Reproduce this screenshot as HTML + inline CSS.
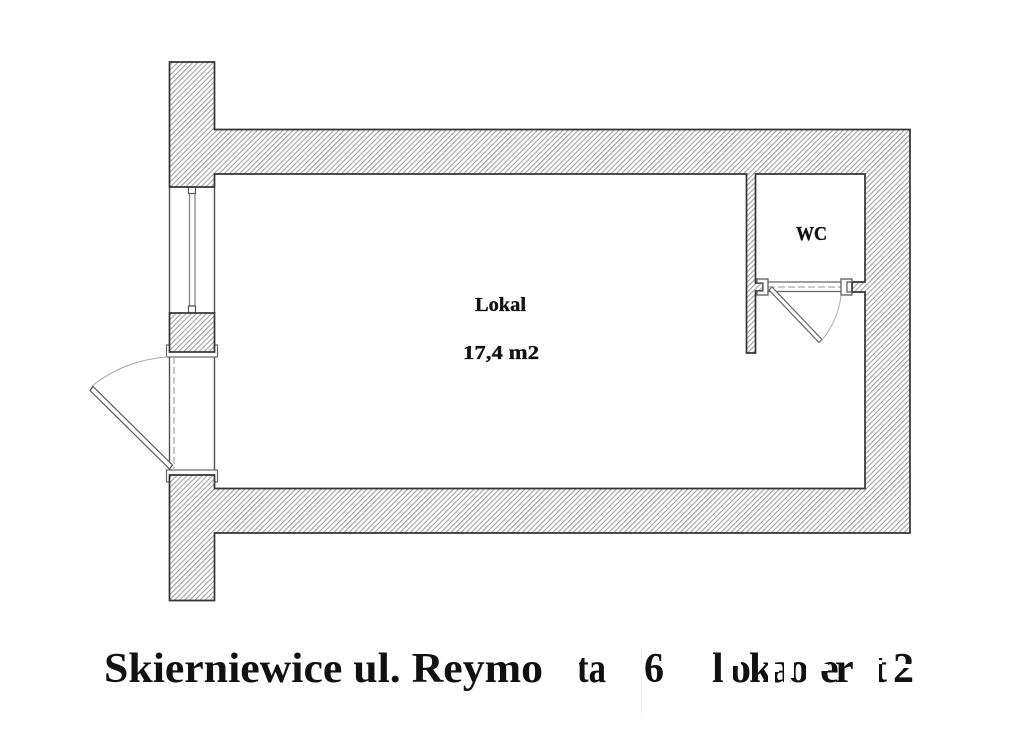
<!DOCTYPE html>
<html><head><meta charset="utf-8"><style>
html,body{margin:0;padding:0;background:#fff}
svg{display:block}
text{font-family:"Liberation Serif",serif;font-weight:bold;fill:#111}
.s{stroke:#111;stroke-width:.35}
</style></head><body>
<svg width="1024" height="734" viewBox="0 0 1024 734" xmlns="http://www.w3.org/2000/svg">
<defs>
<pattern id="h" width="3.6" height="3.6" patternUnits="userSpaceOnUse" patternTransform="rotate(45)">
<rect width="3.6" height="3.6" fill="#fff"/><rect x="0" y="0" width="1.1" height="3.6" fill="#a2a2a2"/>
</pattern>
</defs>
<rect width="1024" height="734" fill="#fff"/>

<!-- door frames -->
<g fill="#fff" stroke="#666" stroke-width="1.2">
<rect x="166.5" y="345" width="51" height="12"/>
<rect x="166.5" y="470" width="51" height="12"/>
</g>
<!-- window / door jamb lines -->
<g stroke="#555" stroke-width="1.4" fill="none">
<path d="M169.5 187V313M214.5 187V313M169.5 357V470M214.5 357V470"/>
</g>
<path d="M174 357V470" stroke="#aaa" stroke-width="1.3" stroke-dasharray="7 3" fill="none"/>
<!-- window glass -->
<rect x="189.5" y="193" width="5.5" height="113" fill="#fff" stroke="#888" stroke-width="1.3"/>
<rect x="188.5" y="187" width="7" height="6.5" fill="#fff" stroke="#555" stroke-width="1.2"/>
<rect x="188.5" y="306" width="7" height="7" fill="#fff" stroke="#555" stroke-width="1.2"/>

<!-- main walls -->
<path fill="url(#h)" stroke="#333" stroke-width="1.7" stroke-linejoin="miter" d="M169.5 62H214.5V129.5H910V533H214.5V600.5H169.5V475H214.5V488.5H865V292H852V282H865V174H755.5V283H763V291H755.5V353H746.5V174H214.5V187H169.5Z"/>
<rect x="169.5" y="313" width="45" height="39" fill="url(#h)" stroke="#333" stroke-width="1.7"/>

<!-- entrance door -->
<path d="M92 386Q125 360 167 357" fill="none" stroke="#aaa" stroke-width="1"/>
<path d="M90 390.5L93 386.5L172.5 465L169.5 469Z" fill="#fff" stroke="#555" stroke-width="1.2"/>

<!-- WC door -->
<path d="M768 282H841M768 291.5H841" stroke="#666" stroke-width="1.2" fill="none"/>
<path d="M768 287H841" stroke="#aaa" stroke-width="1.2" stroke-dasharray="7 3" fill="none"/>
<path d="M757 279H768V295H757V291H763V283H757Z" fill="#fff" stroke="#555" stroke-width="1.2"/>
<path d="M841 279H852V282H847V292H852V295H841Z" fill="#fff" stroke="#555" stroke-width="1.2"/>
<path d="M769 290L772 287L822 339.5L819 342.5Z" fill="#fff" stroke="#666" stroke-width="1.2"/>
<path d="M822 340Q838 320 841 296" fill="none" stroke="#aaa" stroke-width="1"/>

<!-- labels -->
<text class="s" x="475" y="311" font-size="20" textLength="51" lengthAdjust="spacingAndGlyphs">Lokal</text>
<text class="s" x="463" y="359" font-size="20" textLength="76" lengthAdjust="spacingAndGlyphs">17,4 m2</text>
<text class="s" x="796" y="240" font-size="20" textLength="31" lengthAdjust="spacingAndGlyphs">WC</text>

<!-- title -->
<text x="104" y="682" font-size="42" textLength="439" lengthAdjust="spacingAndGlyphs">Skierniewice ul. Reymo</text>
<text x="577" y="682" font-size="42" textLength="29" lengthAdjust="spacingAndGlyphs">ta</text>
<rect x="570" y="650" width="9" height="36" fill="#fff"/>
<text x="644" y="682" font-size="42" textLength="20" lengthAdjust="spacingAndGlyphs">6</text>
<path d="M641.5 648V718" stroke="#f2f2f2" stroke-width="1"/>

<text x="712" y="682" font-size="42">l</text>
<text x="730" y="682" font-size="42">o</text>
<text x="749" y="682" font-size="42">k</text>
<text x="770" y="682" font-size="42">a</text>
<text x="788" y="682" font-size="42">o</text>
<text x="820" y="682" font-size="42">e</text>
<text x="835" y="682" font-size="42">r</text>
<text x="873" y="682" font-size="42">t</text>
<text x="893" y="682" font-size="42">2</text>
<g fill="#fff">
<rect x="724" y="650" width="9" height="36"/>
<rect x="733" y="650" width="8" height="16"/>
<rect x="768" y="650" width="7" height="36"/>
<rect x="775" y="664" width="4" height="8"/>
<rect x="784" y="650" width="6" height="36"/>
<rect x="790" y="660" width="4" height="18"/>
<rect x="806" y="650" width="14" height="36"/>
<rect x="820" y="664" width="8" height="7"/>
<rect x="872" y="650" width="7" height="36"/>
<rect x="879" y="660" width="3" height="4"/>
<rect x="893" y="664" width="24" height="4"/>
</g>
</svg>
</body></html>
